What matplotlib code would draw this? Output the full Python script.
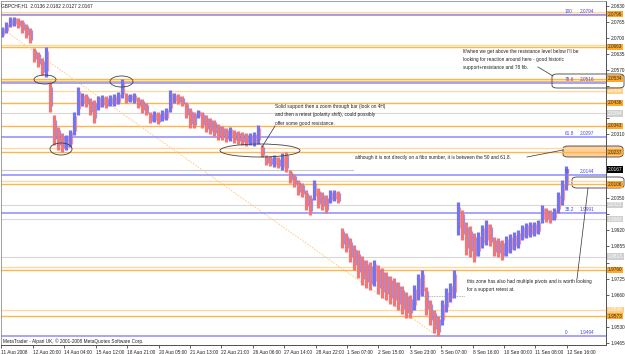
import matplotlib
matplotlib.use("Agg")
import matplotlib.pyplot as plt
import matplotlib.transforms as mtransforms
from matplotlib.patches import Ellipse, FancyBboxPatch
from matplotlib.lines import Line2D
import numpy as np

# ---------------- data ----------------
symbol_title = "GBPCHF,H1"
last_ohlc = [2.0136, 2.0182, 2.0127, 2.0167]

bar_high = [2.0744, 2.0764, 2.0784, 2.0784, 2.0780, 2.0772, 2.0756, 2.0740, 2.0659, 2.0642,
            2.0618, 2.0663, 2.0521, 2.0387, 2.0339, 2.0314, 2.0306, 2.0327, 2.0399, 2.0501,
            2.0476, 2.0472, 2.0456, 2.0448, 2.0464, 2.0468, 2.0464, 2.0468, 2.0472, 2.0480,
            2.0533, 2.0476, 2.0472, 2.0476, 2.0460, 2.0452, 2.0436, 2.0399, 2.0403, 2.0399,
            2.0408, 2.0416, 2.0489, 2.0476, 2.0472, 2.0464, 2.0440, 2.0416, 2.0399, 2.0408,
            2.0399, 2.0387, 2.0375, 2.0367, 2.0351, 2.0343, 2.0335, 2.0339, 2.0327, 2.0322,
            2.0318, 2.0314, 2.0314, 2.0318, 2.0347, 2.0266, 2.0225, 2.0221, 2.0225, 2.0217,
            2.0233, 2.0237, 2.0165, 2.0148, 2.0124, 2.0112, 2.0084, 2.0063, 2.0124, 2.0092,
            2.0075, 2.0063, 2.0084, 2.0084, 2.0079, 1.9930, 1.9909, 1.9889, 1.9861, 1.9841,
            1.9816, 1.9800, 1.9792, 1.9800, 1.9780, 1.9768, 1.9751, 1.9735, 1.9727, 1.9711,
            1.9695, 1.9670, 1.9658, 1.9699, 1.9743, 1.9760, 1.9691, 1.9638, 1.9598, 1.9573,
            1.9638, 1.9687, 1.9707, 1.9760, 2.0035, 2.0003, 1.9954, 1.9938, 1.9909, 1.9913,
            1.9942, 1.9962, 1.9946, 1.9893, 1.9889, 1.9881, 1.9897, 1.9905, 1.9913, 1.9922,
            1.9942, 1.9950, 1.9954, 1.9954, 1.9962, 2.0023, 2.0011, 2.0003, 2.0011, 2.0075,
            2.0124, 2.0182]
bar_low = [2.0703, 2.0719, 2.0744, 2.0748, 2.0740, 2.0719, 2.0699, 2.0679, 2.0602, 2.0582,
           2.0549, 2.0541, 2.0399, 2.0266, 2.0246, 2.0237, 2.0246, 2.0258, 2.0306, 2.0387,
           2.0424, 2.0420, 2.0387, 2.0355, 2.0408, 2.0420, 2.0416, 2.0424, 2.0424, 2.0432,
           2.0456, 2.0436, 2.0440, 2.0436, 2.0416, 2.0395, 2.0387, 2.0355, 2.0359, 2.0351,
           2.0363, 2.0367, 2.0399, 2.0436, 2.0432, 2.0424, 2.0375, 2.0335, 2.0335, 2.0375,
           2.0335, 2.0318, 2.0310, 2.0302, 2.0286, 2.0286, 2.0278, 2.0282, 2.0274, 2.0270,
           2.0266, 2.0262, 2.0266, 2.0262, 2.0270, 2.0217, 2.0185, 2.0181, 2.0177, 2.0173,
           2.0165, 2.0156, 2.0112, 2.0096, 2.0063, 2.0055, 2.0003, 1.9982, 2.0043, 2.0011,
           2.0003, 1.9990, 2.0031, 2.0039, 2.0031, 1.9849, 1.9832, 1.9792, 1.9760, 1.9727,
           1.9699, 1.9687, 1.9679, 1.9695, 1.9662, 1.9646, 1.9638, 1.9622, 1.9614, 1.9598,
           1.9581, 1.9565, 1.9565, 1.9598, 1.9638, 1.9654, 1.9577, 1.9537, 1.9504, 1.9492,
           1.9537, 1.9589, 1.9630, 1.9646, 1.9901, 1.9881, 1.9820, 1.9812, 1.9792, 1.9816,
           1.9849, 1.9861, 1.9857, 1.9816, 1.9812, 1.9800, 1.9816, 1.9828, 1.9841, 1.9849,
           1.9881, 1.9889, 1.9893, 1.9897, 1.9905, 1.9950, 1.9954, 1.9950, 1.9962, 1.9990,
           2.0023, 2.0084]

time_labels = ["11 Aug 2008", "12 Aug 20:00", "14 Aug 04:00", "15 Aug 12:00", "18 Aug 21:00",
               "20 Aug 05:00", "21 Aug 13:00", "22 Aug 21:00", "26 Aug 06:00", "27 Aug 14:00",
               "28 Aug 22:00", "1 Sep 07:00", "2 Sep 15:00", "3 Sep 23:00", "5 Sep 07:00",
               "8 Sep 16:00", "10 Sep 00:00", "11 Sep 08:00", "12 Sep 16:00"]
price_ticks = [2.0830, 2.0765, 2.0700, 2.0635, 2.0570, 2.0505, 2.0440, 2.0375, 2.0310, 2.0245,
               2.0180, 2.0115, 2.0050, 1.9985, 1.9920, 1.9855, 1.9790, 1.9725, 1.9660, 1.9595,
               1.9530, 1.9465]

fib_names = ["0", "38.2", "50", "61.8", "78.6", "100"]
fib_prices = [1.9494, 1.9991, 2.0144, 2.0297, 2.0516, 2.0794]

zone_lines = [2.0796, 2.0663, 2.0534, 2.0525, 2.0436, 2.0343, 2.0237, 2.0106, 1.9760, 1.9573]
zone_lines_light = [2.0804, 2.0671, 2.0486, 2.0254, 2.0120, 1.9772, 1.9598]
gray_lines = [2.0394, 2.0023, 1.9966, 1.9813]
gray_short_price = 2.0165
gray_dotted_price = 1.9654

trend_hours = [5.6, 443.7]
trend_prices = [2.0723, 1.9494]

note_resistance = ["If/when we get above the resistance level below I'll be",
                   "looking for reaction around here - good historic",
                   "support+resistance and 78 fib."]
note_support = ["Solid support then a zoom through bar (look on 4H)",
                "and then a retest (polarity shift), could possibly",
                "offer some good resistance."]
note_fibo = "although it is not directly on a fibo number, it is between the 50 and 61.8."
note_zone = ["this zone has also had multiple pivots and is worth looking",
             "for a support retest at."]
copyright_text = "MetaTrader - Alpari UK, \u00a9 2001-2008 MetaQuotes Software Corp."

# ---------------- figure ----------------
W, H = 625, 354
FONT = "Liberation Sans"
FS = 3.4
plt.rcParams['font.family'] = [FONT, 'DejaVu Sans']

fig = plt.figure(figsize=(W / 100, H / 100), dpi=100)
fig.patch.set_facecolor("white")
L, R, T, B = 1, 606, 1, 345
ax = fig.add_axes([L / W, 1 - B / H, (R - L) / W, (B - T) / H])
ax.patch.set_alpha(0)

px_per_bar = 0.9816
x0 = -0.5
x1 = x0 + (R - L) / px_per_bar
ax.set_xlim(x0, x1)
ax.set_ylim(1.9456, 2.0849)

def fx(x):
    return x / W

def fy(y):
    return 1 - y / H

# horizontal user lines
for p in zone_lines_light:
    ax.axhline(p, color="#FFD79C", lw=0.9, zorder=1)
for p in zone_lines:
    ax.axhline(p, color="#FFB54A", lw=1.0, zorder=1)
for p in gray_lines:
    ax.axhline(p, color="#D8D8D8", lw=0.8, zorder=1)
ax.plot([0, 358], [gray_short_price] * 2, color="#C8C8C8", lw=0.8, zorder=1)
ax.plot([426, 472], [gray_dotted_price] * 2, color="#A0A0A0", lw=0.6, ls=(0, (1, 1)), zorder=1)
for p in fib_prices:
    ax.axhline(p, color="#8C8CFF", lw=1.1, zorder=1.2)

# trend line
ax.plot(trend_hours, trend_prices, color="#FFC878", lw=0.7, ls=(0, (1.5, 1.5)), zorder=1.1)

# price bars
RED, BLUE = "#F07878", "#7474F2"
n = len(bar_high)
hours = np.linspace(0.5, 575, n)
hi = np.array(bar_high)
lo = np.array(bar_low)
mid = (hi + lo) / 2
colors, others = [], []
for i in range(n):
    prev = mid[i - 1] if i > 0 else mid[i]
    down = mid[i] < prev
    colors.append(RED if down else BLUE)
    others.append(BLUE if down else RED)
ax.vlines(hours, lo, hi, colors=colors, lw=2.3, zorder=2)
ax.vlines(hours + 1.7, lo + (hi - lo) * 0.2, hi - (hi - lo) * 0.15, colors=others,
          lw=0.9, alpha=0.75, zorder=2.1)

# fib labels
for name, p in zip(fib_names, fib_prices):
    ax.text(574, p + 0.0004, name, fontsize=FS, color="#4848F0", ha="left", va="bottom", zorder=4)
    ax.text(604, p + 0.0004, f"{p:.4f}", fontsize=FS, color="#4848F0", ha="right", va="bottom", zorder=4)

# axes styling
for s in ["top", "left"]:
    ax.spines[s].set_color("#909090")
    ax.spines[s].set_linewidth(0.6)
for s in ["right", "bottom"]:
    ax.spines[s].set_color("#505050")
    ax.spines[s].set_linewidth(0.7)

# right-axis boxes: one per zone (the darker line), plus light lines that stand alone
box_specs = []
for p in zone_lines:
    box_specs.append((p, "#FFA726", "#303030"))
for p in zone_lines_light:
    if min(abs(p - q) for q in zone_lines) > 0.0022:
        box_specs.append((p, "#FFCF85", "white"))
for p in gray_lines:
    box_specs.append((p, "#D0D0D0", "white"))
box_specs.append((last_ohlc[3], "black", "white"))
kept = []
for spec in sorted(box_specs, key=lambda s: -s[0]):
    if all(abs(spec[0] - k[0]) > 0.0022 for k in kept) or spec[1] == "black":
        kept = [k for k in kept if not (spec[1] == "black" and abs(spec[0] - k[0]) <= 0.0022)]
        kept.append(spec)

ax.yaxis.tick_right()
ax.set_yticks(price_ticks)
ax.set_yticklabels([f"{p:.4f}" if all(abs(p - k[0]) > 0.0024 for k in kept) else ""
                    for p in price_ticks])
ax.tick_params(axis="y", direction="out", length=2, width=0.5, pad=1.2, labelsize=FS,
               colors="#202020")
xt = np.arange(len(time_labels)) * 32
ax.set_xticks(xt)
ax.set_xticklabels(time_labels, ha="left")
ax.tick_params(axis="x", direction="out", length=2.5, width=0.5, pad=1.0, labelsize=FS,
               colors="#202020")

blend = mtransforms.blended_transform_factory(ax.transAxes, ax.transData)
for p, fc, tc in kept:
    ax.text(1.003, p, f"{p:.4f}", transform=blend, fontsize=FS, color=tc, ha="left", va="center",
            clip_on=False, zorder=6,
            bbox=dict(boxstyle="square,pad=0.18", fc=fc, ec="none"))

# title and copyright
ax.text(0.004, 2.0849 - 0.0019, symbol_title + "  " + " ".join(f"{v:.4f}" for v in last_ohlc),
        fontsize=FS, color="#202020", ha="left", va="center", zorder=5)
fig.text(fx(3), fy(341), copyright_text, fontsize=FS, color="#202020", ha="left", va="center")

# annotation shapes (figure pixels)
ec = "#404040"
for cx, cy, w, h in [(45, 79.5, 22, 9), (121.5, 81.5, 23, 11), (61, 149, 22, 12), (260, 150.5, 80, 13)]:
    fig.add_artist(Ellipse((fx(cx), fy(cy)), w / W, h / H, transform=fig.transFigure,
                           fill=False, ec=ec, lw=0.6, zorder=3))

def rbox(xa, ya, xb, yb, fc, z):
    fig.add_artist(FancyBboxPatch((fx(xa), fy(yb)), (xb - xa) / W, (yb - ya) / H,
                                  boxstyle="round,pad=0,rounding_size=0.008",
                                  transform=fig.transFigure, fc=fc, ec=ec, lw=0.6, zorder=z))
rbox(563, 146, 623, 157, "#FFCE9A", -1)
rbox(572, 177, 624, 188, "white", -1)
rbox(552, 74, 624, 88, "none", 3)

def seg(xa, ya, xb, yb):
    fig.add_artist(Line2D([fx(xa), fx(xb)], [fy(ya), fy(yb)], transform=fig.transFigure,
                          color=ec, lw=0.55, zorder=3))
seg(538, 67, 553, 76)
seg(275, 126, 262, 147)
seg(527, 157, 563, 150)
seg(577, 279, 588, 188)

def note(x, y, lines):
    for i, s in enumerate(lines):
        fig.text(fx(x), fy(y + 8 * i), s, fontsize=FS, color="#202020", ha="left", va="center",
                 zorder=4)
note(463, 52, note_resistance)
note(275, 107, note_support)
note(355, 158, [note_fibo])
note(467, 281, note_zone)

fig.savefig("out.png", dpi=100)
